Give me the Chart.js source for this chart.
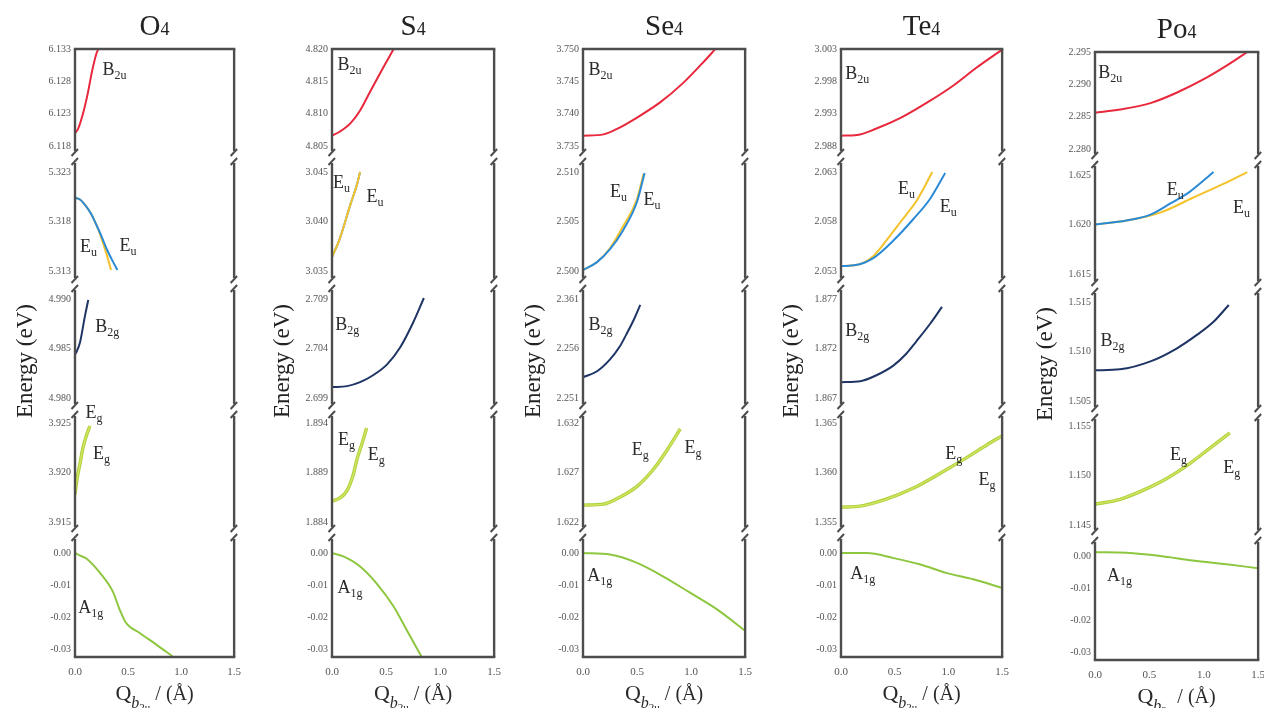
<!DOCTYPE html>
<html>
<head>
<meta charset="utf-8">
<script src="https://cdn.jsdelivr.net/npm/chart.js@4.4.1/dist/chart.umd.min.js"></script>
<style>
  html, body { margin: 0; padding: 0; background: #fff; }
  body { width: 1264px; height: 708px; position: relative; overflow: hidden; }
  canvas { position: absolute; }
</style>
</head>
<body>
<canvas id="cO4"></canvas>
<canvas id="cS4"></canvas>
<canvas id="cSe4"></canvas>
<canvas id="cTe4"></canvas>
<canvas id="cPo4"></canvas>
<script>
// x axis: Q_b2u / (Å)
const qTickLabels = ['0.0', '0.5', '1.0', '1.5'];

// ---- O4 ----
const o4Ticks = [
  ['6.118', '6.123', '6.128', '6.133'],
  ['5.313', '5.318', '5.323'],
  ['4.980', '4.985', '4.990'],
  ['3.915', '3.920', '3.925'],
  ['-0.03', '-0.02', '-0.01', '0.00']
];
const o4B2u = [[0, 6.1200], [0.03, 6.1207], [0.08, 6.1233], [0.12, 6.1261], [0.16, 6.1295], [0.2, 6.1322], [0.22, 6.1330]];
const o4EuBlue = [[0, 5.3204], [0.05, 5.3202], [0.1, 5.3196], [0.15, 5.3188], [0.2, 5.3177], [0.25, 5.3165], [0.3, 5.3152], [0.35, 5.3141], [0.4, 5.3131]];
const o4EuYellow = [[0, 5.3204], [0.05, 5.3202], [0.1, 5.3196], [0.15, 5.3188], [0.2, 5.3177], [0.25, 5.3163], [0.3, 5.3146], [0.34, 5.3131]];
const o4B2g = [[0, 4.9844], [0.016, 4.9847], [0.047, 4.9856], [0.094, 4.9883], [0.125, 4.9899]];
const o4Eg = [[0, 3.9178], [0.02, 3.9194], [0.047, 3.9209], [0.075, 3.9225], [0.11, 3.9238], [0.14, 3.9247]];
const o4A1g = [[0, 0], [0.05, -0.0008], [0.11, -0.0018], [0.23, -0.0060], [0.36, -0.0123], [0.42, -0.0176], [0.48, -0.0218], [0.61, -0.0250], [0.77, -0.0287], [0.92, -0.0323]];
const o4Labels = [
  ['B', '2u', 0.26, 6.129, 1], ['E', 'u', 0.047, 5.3149, 2], ['E', 'u', 0.42, 5.3150, 2],
  ['B', '2g', 0.19, 4.9867, 3], ['E', 'g', 0.1, 3.9255, 4], ['E', 'g', 0.17, 3.9214, 4],
  ['A', '1g', 0.03, -0.0189, 5]
];

// ---- S4 ----
const s4Ticks = [
  ['4.805', '4.810', '4.815', '4.820'],
  ['3.035', '3.040', '3.045'],
  ['2.699', '2.704', '2.709'],
  ['1.884', '1.889', '1.894'],
  ['-0.03', '-0.02', '-0.01', '0.00']
];
const s4B2u = [[0, 4.8066], [0.07, 4.8072], [0.17, 4.8085], [0.26, 4.8105], [0.35, 4.8133], [0.44, 4.8161], [0.52, 4.8185], [0.57, 4.8200]];
const s4EuBlue = [[0, 3.0364], [0.07, 3.0382], [0.1, 3.0392], [0.17, 3.0417], [0.23, 3.0437], [0.26, 3.0450]];
const s4EuYellow = [[0, 3.0364], [0.07, 3.0382], [0.1, 3.0392], [0.17, 3.0417], [0.23, 3.0437], [0.26, 3.0450]];
const s4B2g = [[0, 2.7001], [0.14, 2.7002], [0.26, 2.7006], [0.38, 2.7013], [0.51, 2.7024], [0.63, 2.7041], [0.75, 2.7066], [0.85, 2.7091]];
const s4Eg = [[0, 1.8861], [0.07, 1.8864], [0.14, 1.8872], [0.2, 1.8889], [0.23, 1.8903], [0.28, 1.8920], [0.32, 1.8935]];
const s4A1g = [[0, 0], [0.1, -0.0010], [0.26, -0.0042], [0.41, -0.0094], [0.57, -0.0167], [0.69, -0.0240], [0.83, -0.0325]];
const s4Labels = [
  ['B', '2u', 0.05, 4.8167, 1], ['E', 'u', 0.01, 3.0434, 2], ['E', 'u', 0.32, 3.0420, 2],
  ['B', '2g', 0.03, 2.7059, 3], ['E', 'g', 0.055, 1.8918, 4], ['E', 'g', 0.33, 1.8903, 4],
  ['A', '1g', 0.05, -0.0125, 5]
];

// ---- Se4 ---- (top B2g tick is printed "2.361" in the figure, it sits at 2.261)
const se4Ticks = [
  ['3.735', '3.740', '3.745', '3.750'],
  ['2.500', '2.505', '2.510'],
  ['2.251', '2.256', ['2.361', 2.261]],
  ['1.622', '1.627', '1.632'],
  ['-0.03', '-0.02', '-0.01', '0.00']
];
const se4B2u = [[0, 3.7366], [0.19, 3.7368], [0.31, 3.7376], [0.5, 3.7394], [0.71, 3.7417], [0.93, 3.7448], [1.11, 3.7479], [1.22, 3.7499]];
const se4EuBlue = [[0, 2.5001], [0.13, 2.5009], [0.25, 2.5022], [0.37, 2.5041], [0.5, 2.5070], [0.57, 2.5099]];
const se4EuYellow = [[0, 2.5001], [0.13, 2.5009], [0.25, 2.5023], [0.37, 2.5045], [0.5, 2.5073], [0.56, 2.5098]];
const se4B2g = [[0, 2.2531], [0.13, 2.2537], [0.25, 2.2549], [0.34, 2.2562], [0.4, 2.2574], [0.47, 2.2589], [0.53, 2.2604]];
const se4Eg = [[0, 1.6237], [0.19, 1.6238], [0.34, 1.6245], [0.5, 1.6256], [0.65, 1.6273], [0.78, 1.6293], [0.9, 1.6314]];
const se4A1g = [[0, 0], [0.25, -0.0005], [0.5, -0.0031], [0.74, -0.0073], [0.99, -0.0124], [1.24, -0.0176], [1.5, -0.0243]];
const se4Labels = [
  ['B', '2u', 0.05, 3.7460, 1], ['E', 'u', 0.25, 2.5075, 2], ['E', 'u', 0.56, 2.5067, 2],
  ['B', '2g', 0.05, 2.2579, 3], ['E', 'g', 0.45, 1.6288, 4], ['E', 'g', 0.94, 1.6290, 4],
  ['A', '1g', 0.04, -0.0089, 5]
];

// ---- Te4 ----
const te4Ticks = [
  ['2.988', '2.993', '2.998', '3.003'],
  ['2.053', '2.058', '2.063'],
  ['1.867', '1.872', '1.877'],
  ['1.355', '1.360', '1.365'],
  ['-0.03', '-0.02', '-0.01', '0.00']
];
const te4B2u = [[0, 2.9896], [0.15, 2.9897], [0.33, 2.9907], [0.55, 2.9923], [0.8, 2.9947], [1.05, 2.9974], [1.26, 3.0001], [1.5, 3.0029]];
const te4EuBlue = [[0, 2.0535], [0.14, 2.0536], [0.3, 2.0543], [0.49, 2.0561], [0.67, 2.0582], [0.83, 2.0603], [0.97, 2.0629]];
const te4EuYellow = [[0, 2.0535], [0.14, 2.0536], [0.3, 2.0545], [0.43, 2.0562], [0.55, 2.0579], [0.71, 2.0602], [0.85, 2.0630]];
const te4B2g = [[0, 1.8686], [0.18, 1.8687], [0.33, 1.8693], [0.49, 1.8703], [0.61, 1.8715], [0.7, 1.8727], [0.83, 1.8745], [0.94, 1.8762]];
const te4Eg = [[0, 1.3565], [0.18, 1.3566], [0.42, 1.3573], [0.67, 1.3584], [0.92, 1.3599], [1.17, 1.3615], [1.36, 1.3628], [1.5, 1.3637]];
const te4A1g = [[0, 0], [0.24, 0], [0.49, -0.0016], [0.74, -0.0036], [0.98, -0.0062], [1.23, -0.0082], [1.5, -0.0109]];
const te4Labels = [
  ['B', '2u', 0.04, 2.9983, 1], ['E', 'u', 0.53, 2.0608, 2], ['E', 'u', 0.92, 2.0590, 2],
  ['B', '2g', 0.04, 1.8733, 3], ['E', 'g', 0.97, 1.3614, 4], ['E', 'g', 1.28, 1.3587, 4],
  ['A', '1g', 0.085, -0.0082, 5]
];

// ---- Po4 ----
const po4Ticks = [
  ['2.280', '2.285', '2.290', '2.295'],
  ['1.615', '1.620', '1.625'],
  ['1.505', '1.510', '1.515'],
  ['1.145', '1.150', '1.155'],
  ['-0.03', '-0.02', '-0.01', '0.00']
];
const po4B2u = [[0, 2.2856], [0.23, 2.2861], [0.51, 2.2871], [0.75, 2.2887], [1.0, 2.2908], [1.21, 2.2929], [1.4, 2.2950]];
const po4EuBlue = [[0, 1.6200], [0.29, 1.6204], [0.51, 1.6210], [0.69, 1.6221], [0.87, 1.6233], [1.09, 1.6253]];
const po4EuYellow = [[0, 1.6200], [0.29, 1.6204], [0.6, 1.6212], [0.9, 1.6227], [1.18, 1.6241], [1.4, 1.6253]];
const po4B2g = [[0, 1.5081], [0.23, 1.5082], [0.51, 1.5090], [0.75, 1.5103], [0.94, 1.5117], [1.09, 1.5130], [1.23, 1.5147]];
const po4Eg = [[0, 1.1471], [0.23, 1.1476], [0.44, 1.1485], [0.66, 1.1497], [0.87, 1.1512], [1.06, 1.1528], [1.24, 1.1543]];
const po4A1g = [[0, 0.0012], [0.29, 0.0010], [0.6, 0.0000], [0.9, -0.0014], [1.21, -0.0026], [1.5, -0.0038]];
const po4Labels = [
  ['B', '2u', 0.03, 2.2910, 1], ['E', 'u', 0.66, 1.6230, 2], ['E', 'u', 1.27, 1.6212, 2],
  ['B', '2g', 0.05, 1.5106, 3], ['E', 'g', 0.69, 1.1516, 4], ['E', 'g', 1.18, 1.1503, 4],
  ['A', '1g', 0.11, -0.0077, 5]
];

// line colours
const COLORS = {
  B2u: '#e8283c', EuB: '#2b8ad6', EuY: '#f4c22b', B2g: '#1e3566',
  Eg1: '#a9cf3a', Eg2: '#d2e35e', A1g: '#8dc63f'
};

// panel layout, top to bottom: [pad above top tick, pad below bottom tick, panel height] (px)
const PANELS = [[0, 11, 108], [15, 13, 127], [15, 12, 126], [13, 11, 123], [20, 8, 124]];
const AXIS_W = 75;
const SERIF = '"Liberation Serif", "DejaVu Serif", serif';

// first curve in each list is drawn on top
const columns = [
  { id: 'cO4', title: ['O', '4'], left: 75, width: 159, top: 0, ticks: o4Ticks, labels: o4Labels,
    curves: [[o4B2u, 1, 'B2u'], [o4EuBlue, 2, 'EuB'], [o4EuYellow, 2, 'EuY'], [o4B2g, 3, 'B2g'], [o4Eg, 4, 'Eg2'], [o4Eg, 4, 'Eg1'], [o4A1g, 5, 'A1g']] },
  { id: 'cS4', title: ['S', '4'], left: 332, width: 162, top: 0, ticks: s4Ticks, labels: s4Labels,
    curves: [[s4B2u, 1, 'B2u'], [s4EuYellow, 2, 'EuY'], [s4EuBlue, 2, 'EuB'], [s4B2g, 3, 'B2g'], [s4Eg, 4, 'Eg2'], [s4Eg, 4, 'Eg1'], [s4A1g, 5, 'A1g']] },
  { id: 'cSe4', title: ['Se', '4'], left: 583, width: 162, top: 0, ticks: se4Ticks, labels: se4Labels,
    curves: [[se4B2u, 1, 'B2u'], [se4EuBlue, 2, 'EuB'], [se4EuYellow, 2, 'EuY'], [se4B2g, 3, 'B2g'], [se4Eg, 4, 'Eg2'], [se4Eg, 4, 'Eg1'], [se4A1g, 5, 'A1g']] },
  { id: 'cTe4', title: ['Te', '4'], left: 841, width: 161, top: 0, ticks: te4Ticks, labels: te4Labels,
    curves: [[te4B2u, 1, 'B2u'], [te4EuBlue, 2, 'EuB'], [te4EuYellow, 2, 'EuY'], [te4B2g, 3, 'B2g'], [te4Eg, 4, 'Eg2'], [te4Eg, 4, 'Eg1'], [te4A1g, 5, 'A1g']] },
  { id: 'cPo4', title: ['Po', '4'], left: 1095, width: 163, top: 3, ticks: po4Ticks, labels: po4Labels,
    curves: [[po4B2u, 1, 'B2u'], [po4EuBlue, 2, 'EuB'], [po4EuYellow, 2, 'EuY'], [po4B2g, 3, 'B2g'], [po4Eg, 4, 'Eg2'], [po4Eg, 4, 'Eg1'], [po4A1g, 5, 'A1g']] }
];

// text with a subscript part
function drawSub(ctx, x, y, main, sub, mainFont, subFont, dy) {
  ctx.font = mainFont;
  ctx.fillText(main, x, y);
  const w = ctx.measureText(main).width;
  ctx.font = subFont;
  ctx.fillText(sub, x + w, y + dy);
}

function line(ctx, x1, y1, x2, y2) {
  ctx.beginPath();
  ctx.moveTo(x1, y1);
  ctx.lineTo(x2, y2);
  ctx.stroke();
}

// frame with axis breaks, titles, state labels
const decorPlugin = {
  id: 'decor',
  afterDatasetsDraw(chart) {
    const ctx = chart.ctx, a = chart.chartArea;
    ctx.save();
    ctx.strokeStyle = '#4d4d4d';
    ctx.lineWidth = 2.4;
    line(ctx, a.left - 1.2, a.top, a.right + 1.2, a.top);
    line(ctx, a.left - 1.2, a.bottom, a.right + 1.2, a.bottom);
    for (let i = 1; i <= 5; i++) {
      const sc = chart.scales['p' + i];
      const t = i > 1 ? sc.top + 6 : a.top;
      const b = i < 5 ? sc.bottom - 6 : a.bottom;
      for (const x of [a.left, a.right]) line(ctx, x, t, x, b);
    }
    ctx.lineWidth = 2;
    for (let i = 1; i < 5; i++) {
      const y = chart.scales['p' + i].bottom;
      for (const x of [a.left, a.right]) {
        line(ctx, x - 3.5, y - 1, x + 3, y - 8);
        line(ctx, x - 3.5, y + 8, x + 3, y + 1);
      }
    }
    ctx.restore();
  },
  afterDraw(chart, args, opts) {
    const ctx = chart.ctx, a = chart.chartArea, col = opts.col;
    ctx.save();
    ctx.fillStyle = '#222';
    ctx.textBaseline = 'alphabetic';
    ctx.textAlign = 'left';
    // column title
    const cx = (a.left + a.right) / 2;
    ctx.font = '29px ' + SERIF;
    const w1 = ctx.measureText(col.title[0]).width;
    ctx.font = '18px ' + SERIF;
    const w2 = ctx.measureText(col.title[1]).width;
    drawSub(ctx, cx - (w1 + w2) / 2, a.top - 14, col.title[0], col.title[1], '29px ' + SERIF, '18px ' + SERIF, 0);
    // state labels
    ctx.fillStyle = '#2a2a2a';
    for (const [main, sub, q, e, p] of col.labels) {
      const x = chart.scales.x.getPixelForValue(q);
      const y = chart.scales['p' + p].getPixelForValue(e);
      drawSub(ctx, x, y, main, sub, '18px ' + SERIF, '12px ' + SERIF, 4);
    }
    // y axis title
    ctx.save();
    ctx.translate(a.left - 51, a.top + 312);
    ctx.rotate(-Math.PI / 2);
    ctx.textAlign = 'center';
    ctx.font = '23px ' + SERIF;
    ctx.fillStyle = '#222';
    ctx.fillText('Energy (eV)', 0, 8);
    ctx.restore();
    // x axis title: Q_b2u / (Å)
    ctx.font = '22px ' + SERIF;
    const wq = ctx.measureText('Q').width;
    ctx.font = 'italic 16px ' + SERIF;
    const wb = ctx.measureText('b').width;
    ctx.font = '11px ' + SERIF;
    const w2u = ctx.measureText('2u').width;
    ctx.font = '20px ' + SERIF;
    const wr = ctx.measureText(' / (Å)').width;
    let x0 = cx - (wq + wb + w2u + wr) / 2;
    const yb = a.bottom + 43;
    ctx.font = '22px ' + SERIF; ctx.fillText('Q', x0, yb); x0 += wq;
    ctx.font = 'italic 16px ' + SERIF; ctx.fillText('b', x0, yb + 8); x0 += wb;
    ctx.font = '11px ' + SERIF; ctx.fillText('2u', x0, yb + 11); x0 += w2u;
    ctx.font = '20px ' + SERIF; ctx.fillText(' / (Å)', x0, yb);
    ctx.restore();
  }
};

function buildScales(col) {
  const scales = {
    x: {
      type: 'linear', position: 'bottom', min: 0, max: 1.5,
      afterBuildTicks: sc => { sc.ticks = qTickLabels.map(v => ({ value: Number(v) })); },
      afterFit: sc => { sc.height = 51; },
      grid: { display: false, drawTicks: false },
      border: { display: false },
      ticks: {
        callback: (v, i) => qTickLabels[i], autoSkip: false, maxRotation: 0, padding: 9,
        font: { family: SERIF, size: 11 }, color: '#555'
      }
    }
  };
  col.ticks.forEach((entries, i) => {
    const texts = entries.map(t => Array.isArray(t) ? t[0] : t);
    const vals = entries.map(t => Array.isArray(t) ? t[1] : Number(t));
    const lo = Math.min(...vals), hi = Math.max(...vals);
    const [padT, padB, h] = PANELS[i];
    const s = (hi - lo) / (h - padT - padB);
    scales['p' + (i + 1)] = {
      type: 'linear', position: 'left', stack: 'energy', stackWeight: h, weight: 5 - i,
      min: lo - padB * s, max: hi + padT * s,
      afterBuildTicks: sc => { sc.ticks = vals.map(v => ({ value: v })); },
      afterFit: sc => { sc.width = AXIS_W; },
      grid: { display: false, drawTicks: false },
      border: { display: false },
      ticks: {
        callback: (v, idx) => texts[idx], autoSkip: false, padding: 4,
        font: { family: SERIF, size: 10 }, color: '#555'
      }
    };
  });
  return scales;
}

columns.forEach(col => {
  const canvas = document.getElementById(col.id);
  canvas.width = AXIS_W + col.width + 16;
  canvas.height = 708;
  canvas.style.left = (col.left - AXIS_W) + 'px';
  canvas.style.top = col.top + 'px';
  new Chart(canvas, {
    type: 'line',
    data: {
      datasets: col.curves.map(([pts, panel, key]) => ({
        label: key,
        data: pts.map(([q, e]) => ({ x: q, y: e })),
        xAxisID: 'x',
        yAxisID: 'p' + panel,
        borderColor: COLORS[key],
        borderWidth: key === 'Eg1' ? 3.4 : (key === 'Eg2' ? 1.6 : 2),
        pointRadius: 0,
        fill: false,
        cubicInterpolationMode: 'monotone'
      }))
    },
    options: {
      responsive: false,
      animation: false,
      devicePixelRatio: 1,
      layout: { padding: { top: 49, bottom: 0, left: 0, right: 10 } },
      scales: buildScales(col),
      plugins: {
        legend: { display: false },
        tooltip: { enabled: false },
        decor: { col }
      }
    },
    plugins: [decorPlugin]
  });
});
</script>
</body>
</html>
